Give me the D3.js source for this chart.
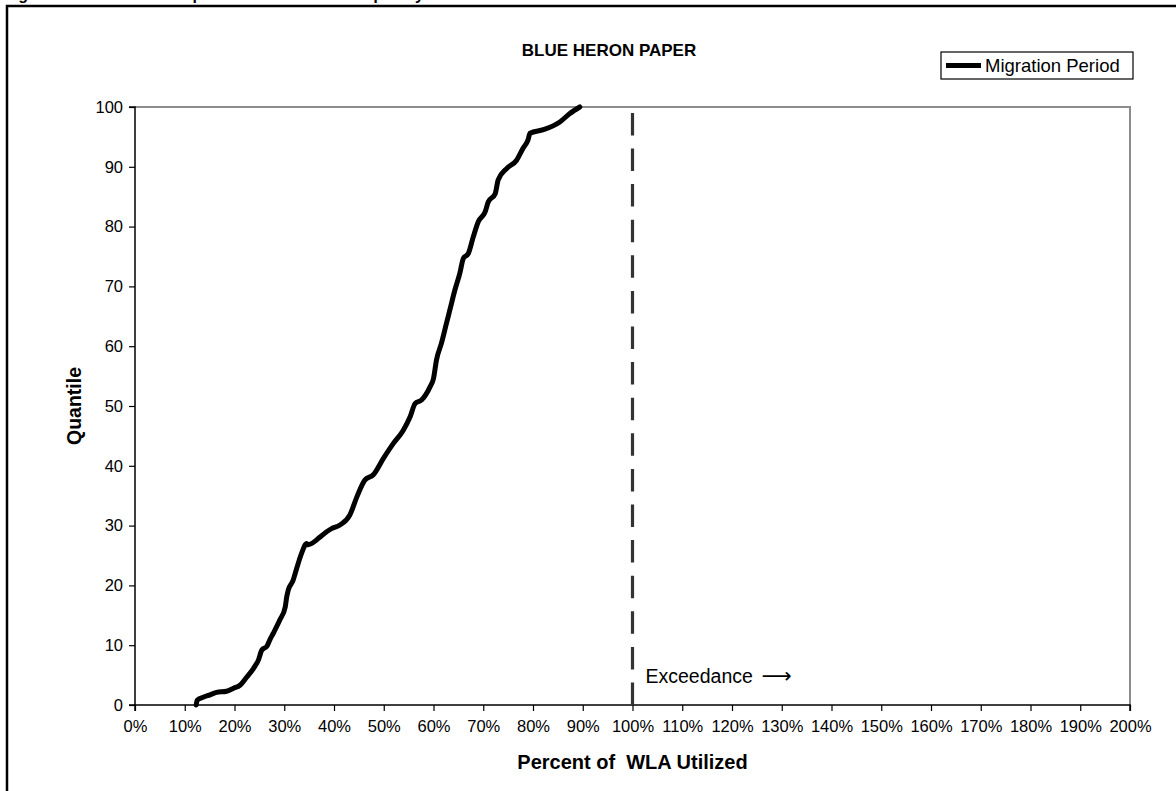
<!DOCTYPE html>
<html>
<head>
<meta charset="utf-8">
<script src="https://cdn.jsdelivr.net/npm/d3@7/dist/d3.min.js"></script>
<style>
  body { margin: 0; background: #fff; }
  svg { display: block; font-family: "Liberation Sans", Arial, sans-serif; }
</style>
</head>
<body>
<svg id="chart" width="1176" height="791"></svg>
<script>
// Percent of WLA utilized (x) vs quantile (y)
var pctUsed = [12.3, 12.5, 13.7, 15.1, 16.4, 18.4, 19.8, 21.1, 22.4, 23.8, 24.8, 25.5, 26.5, 27.1,
  27.8, 29.1, 30.2, 30.5, 30.8, 31.8, 32.2, 33.5, 34.5, 34.8, 36.5, 37.2, 39.5, 41.2, 43.2, 44.6,
  46.2, 47.9, 49.9, 51.9, 53.9, 55.3, 56.3, 57.6, 59.3, 60.0, 60.6, 61.6, 62.6, 63.3, 64.3, 65.3,
  66.0, 67.0, 68.0, 69.0, 70.4, 71.0, 72.4, 73.0, 74.7, 76.7, 78.0, 79.0, 79.4, 82.1, 85.4, 87.4, 89.4];
var quantile = [0.0, 0.8, 1.3, 1.7, 2.1, 2.3, 2.8, 3.3, 4.6, 6.1, 7.5, 9.2, 9.8, 10.9,
  12.0, 14.2, 16.4, 18.1, 19.2, 20.9, 22.0, 25.4, 27.0, 26.8, 27.6, 28.1, 29.5, 30.1, 31.8, 34.8,
  37.6, 38.5, 41.2, 43.7, 45.9, 48.2, 50.4, 51.0, 53.2, 54.6, 57.7, 60.5, 63.8, 66.1, 69.4, 72.2,
  74.7, 75.5, 78.3, 80.8, 82.5, 84.1, 85.5, 87.8, 89.7, 91.1, 93.1, 94.5, 95.6, 96.2, 97.5, 98.9, 100];

var xTicks = d3.range(0, 201, 10);   // 0% .. 200%
var yTicks = d3.range(0, 101, 10);
var wlaLimit = 100;                   // exceedance threshold
var seriesName = "Migration Period";

var svg = d3.select("#chart");

// outer frame (right / bottom edges sit off the page)
svg.append("rect")
  .attr("x", 7).attr("y", 6).attr("width", 1200).attr("height", 820)
  .attr("fill", "none").attr("stroke", "#000").attr("stroke-width", 2.5);

// figure caption, only the descenders show at the top edge like the scan
svg.append("text")
  .attr("x", 4).attr("y", -0.5)
  .attr("font-size", 16).attr("font-weight", "bold")
  .text("Figure 11. Blue Heron Paper WLA Utilization Frequency distribution");

var x = d3.scaleLinear().domain([0, 200]).range([135, 1130]);
var y = d3.scaleLinear().domain([0, 100]).range([705, 107]);

// plot area border - grey top/right
svg.append("path")
  .attr("d", "M" + x(0) + "," + y(100) + "H" + x(200) + "V" + y(0))
  .attr("fill", "none").attr("stroke", "#8c8c8c").attr("stroke-width", 2);

// axes
var xAxis = svg.append("g")
  .attr("transform", "translate(0," + y(0) + ")")
  .call(d3.axisBottom(x).tickValues(xTicks).tickSize(6).tickPadding(9)
    .tickFormat(function(d) { return d + "%"; }));
var yAxis = svg.append("g")
  .attr("transform", "translate(" + x(0) + ",0)")
  .call(d3.axisLeft(y).tickValues(yTicks).tickSize(6).tickPadding(6));

[xAxis, yAxis].forEach(function(g) {
  g.select(".domain").attr("stroke", "#000").attr("stroke-width", 1.5);
  g.selectAll(".tick line").attr("stroke", "#000").attr("stroke-width", 1.2);
  g.selectAll(".tick text").attr("fill", "#000").attr("font-size", 16.5)
    .attr("font-family", "Liberation Sans, Arial, sans-serif");
});
xAxis.select(".domain").attr("d", "M" + x(0) + ",6V0H" + x(200) + "V6");
yAxis.select(".domain").attr("d", "M-6," + y(100) + "H0V" + y(0) + "H-6");

// 100% dashed marker
svg.append("line")
  .attr("x1", x(wlaLimit)).attr("x2", x(wlaLimit))
  .attr("y1", y(0)).attr("y2", y(100))
  .attr("stroke", "#333").attr("stroke-width", 3.2)
  .attr("stroke-dasharray", "22.5,13.1");

svg.append("text")
  .attr("x", x(wlaLimit) + 13).attr("y", 683)
  .attr("font-size", 19.5)
  .text("Exceedance");
svg.append("text")
  .attr("x", x(wlaLimit) + 129).attr("y", 683)
  .attr("font-size", 21)
  .attr("font-family", "DejaVu Sans, sans-serif")
  .text("\u27F6");

// the curve
var pts = pctUsed.map(function(d, i) { return [d, quantile[i]]; });
var line = d3.line()
  .x(function(d) { return x(d[0]); })
  .y(function(d) { return y(d[1]); })
  .curve(d3.curveMonotoneX);

svg.append("path")
  .datum(pts)
  .attr("d", line)
  .attr("fill", "none")
  .attr("stroke", "#000")
  .attr("stroke-width", 5)
  .attr("stroke-linejoin", "round")
  .attr("stroke-linecap", "round");

// titles
svg.append("text")
  .attr("x", 609).attr("y", 56)
  .attr("text-anchor", "middle")
  .attr("font-size", 17).attr("font-weight", "bold")
  .text("BLUE HERON PAPER");

svg.append("text")
  .attr("x", (x(0) + x(200)) / 2).attr("y", 769)
  .attr("text-anchor", "middle")
  .attr("font-size", 20).attr("font-weight", "bold")
  .style("white-space", "pre")
  .text("Percent of  WLA Utilized");

svg.append("text")
  .attr("transform", "translate(81," + y(50) + ") rotate(-90)")
  .attr("text-anchor", "middle")
  .attr("font-size", 19.5).attr("font-weight", "bold")
  .text("Quantile");

// legend
var leg = svg.append("g").attr("transform", "translate(941,52)");
leg.append("rect")
  .attr("width", 192).attr("height", 27)
  .attr("fill", "#fff").attr("stroke", "#000").attr("stroke-width", 1.2);
leg.append("line")
  .attr("x1", 5).attr("x2", 40).attr("y1", 13.5).attr("y2", 13.5)
  .attr("stroke", "#000").attr("stroke-width", 5);
leg.append("text")
  .attr("x", 44).attr("y", 20)
  .attr("font-size", 18.5)
  .text(seriesName);
</script>
</body>
</html>
